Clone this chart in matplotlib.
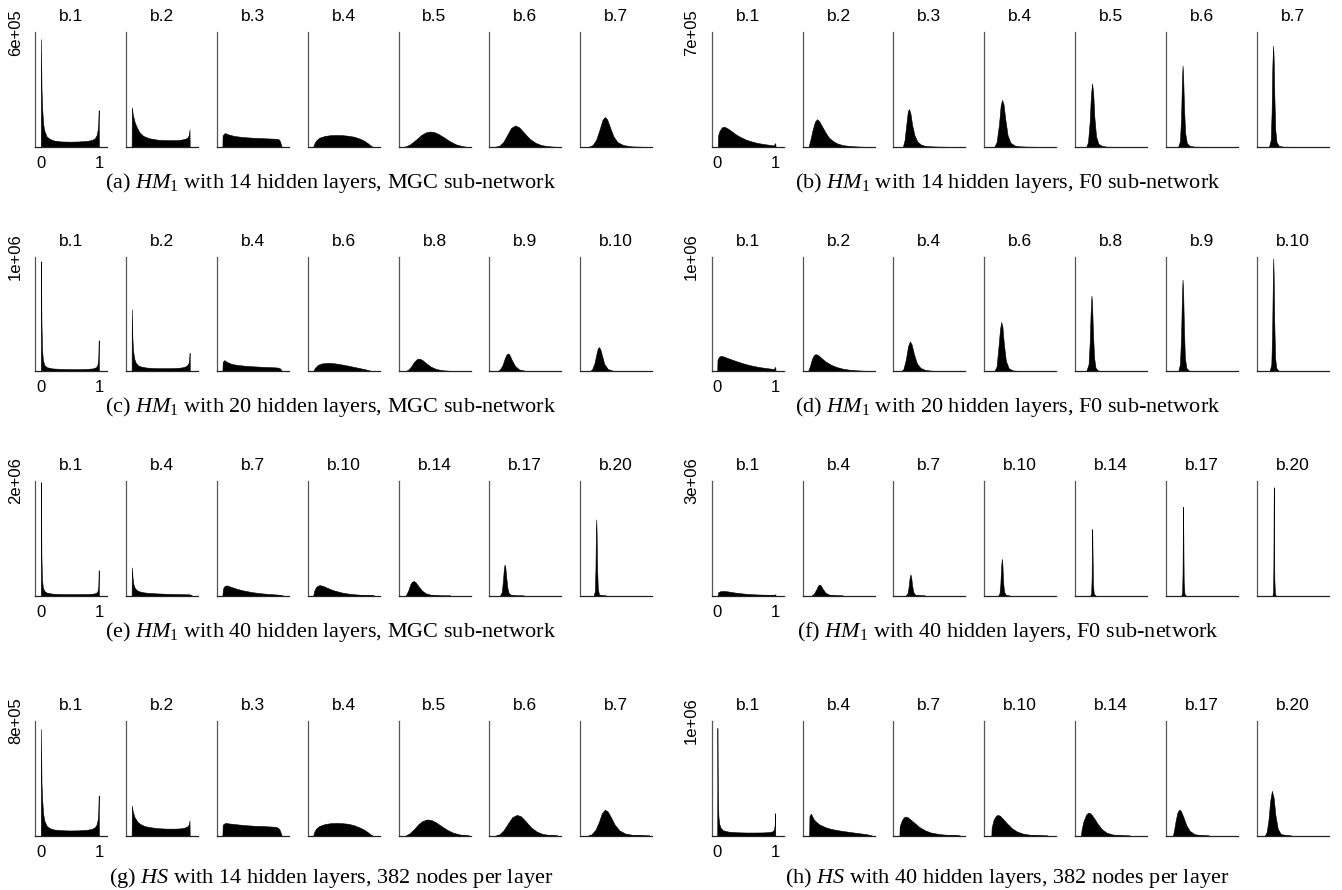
import numpy as np
import matplotlib
matplotlib.use("Agg")
import matplotlib.pyplot as plt

plt.rcParams['font.family'] = ['Liberation Sans', 'DejaVu Sans']
plt.rcParams['mathtext.fontset'] = 'custom'
plt.rcParams['mathtext.rm'] = 'Liberation Serif'
plt.rcParams['mathtext.it'] = 'Liberation Serif:italic'

# ---------------- data (counts in units of 1e5) ----------------
UNIT = 1e5

a_titles = ['b.1', 'b.2', 'b.3', 'b.4', 'b.5', 'b.6', 'b.7']
a_ymax = 6e5
a_ylabel = '6e+05'
a_x = [
    [0, 0.002, 0.012, 0.025, 0.04, 0.06, 0.1, 0.15, 0.22, 0.35, 0.5, 0.65, 0.8, 0.88, 0.93, 0.96, 0.98, 0.99, 0.997, 1.0],
    [0, 0.004, 0.02, 0.05, 0.08, 0.13, 0.2, 0.3, 0.45, 0.6, 0.75, 0.85, 0.92, 0.96, 0.985, 0.997, 1.0],
    [0, 0.003, 0.04, 0.1, 0.2, 0.35, 0.5, 0.7, 0.85, 0.93, 0.97, 0.99, 1.005, 1.02],
    [0, 0.02, 0.05, 0.1, 0.2, 0.3, 0.4, 0.5, 0.6, 0.7, 0.8, 0.87, 0.93, 0.98, 1.02],
    [0, 0.05, 0.1, 0.2, 0.3, 0.38, 0.45, 0.52, 0.6, 0.7, 0.8, 0.9, 1.0, 1.08],
    [0, 0.08, 0.15, 0.22, 0.28, 0.35, 0.42, 0.5, 0.6, 0.7, 0.8, 0.9, 1.0, 1.08],
    [0.05, 0.12, 0.18, 0.24, 0.29, 0.33, 0.37, 0.42, 0.48, 0.55, 0.65, 0.8, 1.0],
]
a_y = [
    [0, 5.64, 3.0, 1.92, 1.2, 0.84, 0.54, 0.42, 0.33, 0.28, 0.27, 0.28, 0.31, 0.36, 0.45, 0.6, 0.9, 1.32, 1.92, 0],
    [0, 2.07, 1.68, 1.32, 1.08, 0.78, 0.57, 0.45, 0.37, 0.35, 0.35, 0.37, 0.42, 0.48, 0.6, 0.9, 0],
    [0, 0.6, 0.72, 0.65, 0.57, 0.51, 0.48, 0.45, 0.43, 0.42, 0.39, 0.3, 0.15, 0],
    [0, 0.18, 0.33, 0.47, 0.57, 0.61, 0.62, 0.61, 0.58, 0.53, 0.43, 0.33, 0.21, 0.09, 0],
    [0, 0.05, 0.12, 0.36, 0.63, 0.76, 0.8, 0.77, 0.66, 0.47, 0.27, 0.12, 0.04, 0],
    [0, 0.06, 0.27, 0.66, 0.99, 1.12, 1.02, 0.75, 0.42, 0.21, 0.09, 0.04, 0.01, 0],
    [0, 0.09, 0.36, 0.9, 1.41, 1.56, 1.44, 1.02, 0.54, 0.24, 0.09, 0.02, 0],
]

b_titles = ['b.1', 'b.2', 'b.3', 'b.4', 'b.5', 'b.6', 'b.7']
b_ymax = 7e5
b_ylabel = '7e+05'
b_x = [
    [0.01, 0.015, 0.04, 0.08, 0.12, 0.18, 0.25, 0.32, 0.4, 0.5, 0.6, 0.7, 0.8, 0.9, 0.98, 0.99, 1.0, 1.005],
    [0.01, 0.04, 0.08, 0.12, 0.155, 0.19, 0.24, 0.3, 0.36, 0.43, 0.5, 0.6, 0.75, 0.9, 1.0],
    [0.07, 0.1, 0.13, 0.155, 0.175, 0.2, 0.23, 0.27, 0.32, 0.38, 0.45, 0.55, 0.7, 0.9],
    [0.08, 0.12, 0.16, 0.19, 0.215, 0.24, 0.27, 0.31, 0.36, 0.43, 0.52, 0.65, 0.85],
    [0.1, 0.13, 0.16, 0.18, 0.2, 0.22, 0.24, 0.27, 0.31, 0.37, 0.45, 0.6],
    [0.12, 0.15, 0.17, 0.185, 0.195, 0.205, 0.22, 0.24, 0.27, 0.32, 0.4, 0.55],
    [0.12, 0.15, 0.165, 0.178, 0.19, 0.2, 0.212, 0.228, 0.25, 0.29, 0.36, 0.5],
]
b_y = [
    [0, 0.7, 0.98, 1.19, 1.23, 1.12, 0.95, 0.76, 0.6, 0.43, 0.32, 0.23, 0.17, 0.12, 0.08, 0.21, 0.21, 0],
    [0, 0.42, 1.05, 1.54, 1.69, 1.58, 1.26, 0.88, 0.56, 0.35, 0.21, 0.1, 0.04, 0.01, 0],
    [0, 0.42, 1.4, 2.17, 2.31, 2.03, 1.33, 0.7, 0.32, 0.14, 0.06, 0.03, 0.01, 0],
    [0, 0.28, 1.33, 2.52, 2.87, 2.59, 1.68, 0.7, 0.25, 0.08, 0.03, 0.01, 0],
    [0, 0.28, 1.54, 3.08, 3.88, 3.29, 1.82, 0.63, 0.18, 0.06, 0.01, 0],
    [0, 0.35, 1.75, 4.06, 4.97, 4.34, 2.45, 0.84, 0.21, 0.06, 0.01, 0],
    [0, 0.42, 2.1, 4.9, 6.18, 5.46, 3.15, 1.05, 0.28, 0.06, 0.01, 0],
]

c_titles = ['b.1', 'b.2', 'b.4', 'b.6', 'b.8', 'b.9', 'b.10']
c_ymax = 1e6
c_ylabel = '1e+06'
c_x = [
    [0, 0.003, 0.01, 0.02, 0.035, 0.06, 0.1, 0.2, 0.35, 0.5, 0.65, 0.8, 0.9, 0.95, 0.975, 0.99, 0.997, 1.0],
    [0, 0.003, 0.012, 0.025, 0.045, 0.07, 0.1, 0.15, 0.25, 0.4, 0.55, 0.7, 0.82, 0.9, 0.95, 0.98, 0.993, 0.999, 1.002],
    [0, 0.005, 0.03, 0.08, 0.15, 0.25, 0.4, 0.55, 0.7, 0.85, 0.95, 0.99, 1.01, 1.03],
    [0, 0.03, 0.08, 0.15, 0.25, 0.35, 0.5, 0.65, 0.8, 0.9, 0.97, 1.02],
    [0.02, 0.07, 0.12, 0.17, 0.22, 0.26, 0.31, 0.38, 0.46, 0.55, 0.65, 0.8, 1.0],
    [0.03, 0.08, 0.13, 0.17, 0.2, 0.225, 0.25, 0.29, 0.35, 0.42, 0.52, 0.65, 0.85],
    [0.07, 0.11, 0.15, 0.19, 0.21, 0.23, 0.25, 0.28, 0.32, 0.38, 0.46, 0.6, 0.8],
]
c_y = [
    [0, 9.6, 4.5, 2.0, 1.0, 0.55, 0.35, 0.24, 0.2, 0.18, 0.18, 0.2, 0.25, 0.35, 0.55, 1.2, 2.7, 0],
    [0, 5.4, 3.0, 1.8, 1.1, 0.75, 0.55, 0.42, 0.32, 0.27, 0.26, 0.27, 0.3, 0.36, 0.48, 0.7, 1.1, 1.6, 0],
    [0, 0.8, 0.97, 0.8, 0.65, 0.55, 0.47, 0.42, 0.38, 0.35, 0.32, 0.25, 0.12, 0],
    [0, 0.3, 0.55, 0.68, 0.73, 0.7, 0.58, 0.43, 0.27, 0.16, 0.07, 0],
    [0, 0.12, 0.4, 0.8, 1.05, 1.1, 1.0, 0.7, 0.4, 0.2, 0.09, 0.03, 0],
    [0, 0.1, 0.5, 1.1, 1.45, 1.55, 1.45, 1.0, 0.45, 0.15, 0.04, 0.01, 0],
    [0, 0.15, 0.65, 1.6, 2.0, 2.1, 1.95, 1.4, 0.65, 0.2, 0.05, 0.01, 0],
]

d_titles = ['b.1', 'b.2', 'b.4', 'b.6', 'b.8', 'b.9', 'b.10']
d_ymax = 1e6
d_ylabel = '1e+06'
d_x = [
    [0, 0.005, 0.03, 0.06, 0.1, 0.18, 0.27, 0.36, 0.45, 0.55, 0.65, 0.75, 0.85, 0.93, 0.98, 0.99, 1.0, 1.005],
    [0, 0.03, 0.07, 0.1, 0.13, 0.17, 0.22, 0.3, 0.4, 0.5, 0.6, 0.7, 0.8, 0.9, 1.0, 1.08],
    [0.04, 0.08, 0.12, 0.16, 0.19, 0.22, 0.26, 0.31, 0.37, 0.45, 0.55, 0.7, 0.9],
    [0.08, 0.12, 0.15, 0.18, 0.2, 0.22, 0.245, 0.28, 0.33, 0.4, 0.5, 0.65],
    [0.1, 0.14, 0.16, 0.175, 0.19, 0.2, 0.215, 0.235, 0.26, 0.3, 0.38, 0.5],
    [0.12, 0.15, 0.17, 0.183, 0.195, 0.205, 0.218, 0.235, 0.26, 0.3, 0.38, 0.5],
    [0.13, 0.16, 0.175, 0.185, 0.193, 0.2, 0.21, 0.225, 0.245, 0.28, 0.35, 0.45],
]
d_y = [
    [0, 1.0, 1.25, 1.34, 1.3, 1.15, 0.98, 0.83, 0.68, 0.54, 0.43, 0.34, 0.27, 0.22, 0.2, 0.35, 0.35, 0],
    [0, 0.4, 1.1, 1.4, 1.49, 1.42, 1.2, 0.85, 0.55, 0.35, 0.22, 0.14, 0.09, 0.06, 0.03, 0],
    [0, 0.2, 1.0, 2.2, 2.6, 2.35, 1.5, 0.7, 0.3, 0.12, 0.05, 0.01, 0],
    [0, 0.4, 2.0, 3.7, 4.3, 3.9, 2.4, 0.9, 0.25, 0.07, 0.02, 0],
    [0, 0.6, 2.5, 5.0, 6.6, 6.0, 3.5, 1.2, 0.3, 0.06, 0.01, 0],
    [0, 0.6, 3.0, 6.2, 8.0, 7.0, 4.0, 1.2, 0.3, 0.06, 0.01, 0],
    [0, 0.6, 3.5, 7.5, 9.85, 8.5, 4.5, 1.2, 0.3, 0.05, 0.01, 0],
]

e_titles = ['b.1', 'b.4', 'b.7', 'b.10', 'b.14', 'b.17', 'b.20']
e_ymax = 2e6
e_ylabel = '2e+06'
e_x = [
    [0, 0.003, 0.01, 0.02, 0.035, 0.06, 0.1, 0.2, 0.35, 0.5, 0.65, 0.8, 0.9, 0.95, 0.975, 0.99, 0.997, 1.0],
    [0, 0.004, 0.015, 0.03, 0.05, 0.08, 0.12, 0.2, 0.3, 0.45, 0.6, 0.75, 0.9, 1.0, 1.04],
    [0, 0.01, 0.04, 0.08, 0.15, 0.25, 0.35, 0.5, 0.65, 0.8, 0.95, 1.05],
    [0, 0.02, 0.05, 0.09, 0.12, 0.17, 0.25, 0.35, 0.5, 0.65, 0.8, 1.0, 1.05],
    [0.03, 0.07, 0.11, 0.14, 0.17, 0.2, 0.25, 0.31, 0.38, 0.47, 0.6, 0.8],
    [0.09, 0.12, 0.14, 0.155, 0.168, 0.18, 0.195, 0.215, 0.24, 0.28, 0.35, 0.5],
    [0.14, 0.16, 0.17, 0.177, 0.183, 0.189, 0.197, 0.21, 0.23, 0.27, 0.35],
]
e_y = [
    [0, 19.8, 7.0, 2.8, 1.4, 0.8, 0.5, 0.32, 0.26, 0.24, 0.24, 0.26, 0.32, 0.44, 0.7, 1.6, 4.4, 0],
    [0, 4.9, 3.2, 2.0, 1.4, 1.0, 0.76, 0.56, 0.44, 0.36, 0.3, 0.26, 0.22, 0.2, 0],
    [0, 1.2, 1.7, 1.76, 1.5, 1.16, 0.9, 0.6, 0.4, 0.26, 0.16, 0],
    [0, 0.9, 1.5, 1.76, 1.8, 1.66, 1.3, 0.9, 0.5, 0.26, 0.14, 0.06, 0],
    [0, 0.8, 2.0, 2.44, 2.52, 2.3, 1.6, 0.84, 0.36, 0.12, 0.02, 0],
    [0, 0.6, 2.6, 4.6, 5.4, 5.0, 3.4, 1.4, 0.4, 0.08, 0.02, 0],
    [0, 0.8, 5.0, 11.0, 13.3, 11.0, 5.0, 1.2, 0.2, 0.04, 0],
]

f_titles = ['b.1', 'b.4', 'b.7', 'b.10', 'b.14', 'b.17', 'b.20']
f_ymax = 3e6
f_ylabel = '3e+06'
f_x = [
    [0.01, 0.015, 0.05, 0.1, 0.18, 0.3, 0.45, 0.6, 0.75, 0.9, 0.98, 0.99, 1.0, 1.005],
    [0.06, 0.1, 0.14, 0.17, 0.195, 0.22, 0.25, 0.3, 0.36, 0.45, 0.6],
    [0.12, 0.15, 0.17, 0.185, 0.2, 0.213, 0.228, 0.25, 0.28, 0.33, 0.45],
    [0.15, 0.17, 0.185, 0.198, 0.21, 0.22, 0.232, 0.25, 0.28, 0.35],
    [0.17, 0.185, 0.193, 0.198, 0.203, 0.208, 0.216, 0.23, 0.26],
    [0.175, 0.188, 0.195, 0.2, 0.204, 0.208, 0.215, 0.228, 0.25],
    [0.18, 0.19, 0.196, 0.2, 0.203, 0.206, 0.212, 0.222, 0.24],
]
f_y = [
    [0, 0.84, 1.11, 1.2, 1.08, 0.78, 0.51, 0.33, 0.24, 0.18, 0.15, 0.3, 0.3, 0],
    [0, 0.45, 1.5, 2.55, 2.88, 2.64, 1.8, 0.75, 0.24, 0.06, 0],
    [0, 0.6, 2.4, 4.5, 5.52, 4.8, 2.7, 0.9, 0.24, 0.06, 0],
    [0, 0.6, 3.0, 7.5, 9.6, 8.1, 3.6, 0.9, 0.15, 0],
    [0, 0.6, 4.5, 13.5, 17.4, 12.0, 3.0, 0.45, 0],
    [0, 0.9, 6.0, 18.0, 23.25, 16.5, 3.6, 0.45, 0],
    [0, 0.9, 7.5, 22.5, 28.35, 21.0, 4.5, 0.45, 0],
]

g_titles = ['b.1', 'b.2', 'b.3', 'b.4', 'b.5', 'b.6', 'b.7']
g_ymax = 8e5
g_ylabel = '8e+05'
g_x = [
    [0, 0.002, 0.012, 0.025, 0.04, 0.06, 0.1, 0.15, 0.22, 0.35, 0.5, 0.65, 0.8, 0.88, 0.93, 0.96, 0.98, 0.99, 0.997, 1.0],
    [0, 0.004, 0.02, 0.05, 0.1, 0.15, 0.22, 0.32, 0.45, 0.6, 0.75, 0.85, 0.92, 0.96, 0.985, 0.997, 1.0],
    [0, 0.005, 0.05, 0.12, 0.25, 0.4, 0.55, 0.7, 0.82, 0.9, 0.95, 0.98, 1.0, 1.02],
    [0, 0.02, 0.05, 0.1, 0.2, 0.3, 0.4, 0.5, 0.6, 0.7, 0.8, 0.87, 0.93, 0.98, 1.02],
    [0.03, 0.1, 0.18, 0.25, 0.32, 0.4, 0.47, 0.55, 0.65, 0.75, 0.85, 0.95, 1.05, 1.12],
    [0.01, 0.08, 0.15, 0.22, 0.3, 0.38, 0.45, 0.53, 0.62, 0.72, 0.82, 0.95, 1.08],
    [0.04, 0.1, 0.17, 0.23, 0.28, 0.33, 0.38, 0.44, 0.5, 0.58, 0.68, 0.8, 0.95, 1.1],
]
g_y = [
    [0, 7.44, 3.6, 2.4, 1.52, 1.04, 0.68, 0.52, 0.42, 0.37, 0.35, 0.36, 0.4, 0.46, 0.58, 0.76, 1.12, 1.76, 2.8, 0],
    [0, 2.08, 1.68, 1.28, 0.96, 0.8, 0.66, 0.58, 0.51, 0.48, 0.48, 0.5, 0.56, 0.64, 0.76, 1.04, 0],
    [0, 0.76, 0.88, 0.84, 0.78, 0.72, 0.68, 0.66, 0.63, 0.61, 0.56, 0.44, 0.24, 0],
    [0, 0.28, 0.48, 0.66, 0.8, 0.86, 0.88, 0.86, 0.82, 0.72, 0.56, 0.42, 0.26, 0.1, 0],
    [0, 0.16, 0.48, 0.8, 1.02, 1.12, 1.08, 0.92, 0.64, 0.38, 0.19, 0.08, 0.02, 0],
    [0, 0.08, 0.36, 0.8, 1.28, 1.44, 1.34, 1.0, 0.58, 0.28, 0.11, 0.03, 0],
    [0, 0.08, 0.4, 0.96, 1.56, 1.8, 1.68, 1.24, 0.76, 0.36, 0.14, 0.05, 0.02, 0],
]

h_titles = ['b.1', 'b.4', 'b.7', 'b.10', 'b.14', 'b.17', 'b.20']
h_ymax = 1e6
h_ylabel = '1e+06'
h_x = [
    [0, 0.003, 0.01, 0.02, 0.035, 0.06, 0.1, 0.2, 0.35, 0.5, 0.65, 0.8, 0.9, 0.95, 0.975, 0.99, 0.997, 1.0],
    [0.02, 0.025, 0.05, 0.1, 0.15, 0.2, 0.3, 0.4, 0.55, 0.7, 0.85, 1.0, 1.1],
    [0.01, 0.015, 0.05, 0.08, 0.11, 0.15, 0.2, 0.27, 0.35, 0.45, 0.55, 0.7, 0.85, 1.0, 1.05],
    [0.03, 0.035, 0.07, 0.11, 0.14, 0.18, 0.23, 0.3, 0.38, 0.47, 0.57, 0.7, 0.85, 1.0],
    [0.01, 0.02, 0.05, 0.1, 0.14, 0.18, 0.23, 0.3, 0.37, 0.45, 0.55, 0.7, 0.85],
    [0.03, 0.05, 0.08, 0.11, 0.14, 0.17, 0.21, 0.26, 0.32, 0.4, 0.5, 0.65],
    [0.05, 0.08, 0.11, 0.14, 0.17, 0.2, 0.23, 0.27, 0.32, 0.4, 0.5],
]
h_y = [
    [0, 9.4, 4.0, 1.7, 1.0, 0.65, 0.45, 0.33, 0.28, 0.26, 0.26, 0.27, 0.3, 0.36, 0.5, 0.9, 1.95, 0],
    [0, 1.7, 1.9, 1.4, 1.15, 0.95, 0.72, 0.57, 0.43, 0.32, 0.22, 0.12, 0],
    [0, 0.8, 1.3, 1.55, 1.66, 1.6, 1.4, 1.1, 0.75, 0.45, 0.26, 0.12, 0.05, 0.02, 0],
    [0, 0.7, 1.4, 1.72, 1.8, 1.72, 1.45, 1.05, 0.65, 0.35, 0.17, 0.06, 0.02, 0],
    [0, 0.5, 1.2, 1.85, 2.0, 1.9, 1.55, 1.0, 0.55, 0.25, 0.09, 0.02, 0],
    [0, 0.5, 1.4, 2.05, 2.27, 2.1, 1.6, 0.9, 0.4, 0.12, 0.03, 0],
    [0, 0.3, 1.3, 3.0, 3.9, 3.3, 1.8, 0.6, 0.15, 0.03, 0],
]

captions = [
    r'(a) $\mathit{HM}_1$ with 14 hidden layers, MGC sub-network',
    r'(b) $\mathit{HM}_1$ with 14 hidden layers, F0 sub-network',
    r'(c) $\mathit{HM}_1$ with 20 hidden layers, MGC sub-network',
    r'(d) $\mathit{HM}_1$ with 20 hidden layers, F0 sub-network',
    r'(e) $\mathit{HM}_1$ with 40 hidden layers, MGC sub-network',
    r'(f) $\mathit{HM}_1$ with 40 hidden layers, F0 sub-network',
    r'(g) $\mathit{HS}$ with 14 hidden layers, 382 nodes per layer',
    r'(h) $\mathit{HS}$ with 40 hidden layers, 382 nodes per layer',
]

groups = [
    (a_titles, a_ymax, a_ylabel, a_x, a_y),
    (b_titles, b_ymax, b_ylabel, b_x, b_y),
    (c_titles, c_ymax, c_ylabel, c_x, c_y),
    (d_titles, d_ymax, d_ylabel, d_x, d_y),
    (e_titles, e_ymax, e_ylabel, e_x, e_y),
    (f_titles, f_ymax, f_ylabel, f_x, f_y),
    (g_titles, g_ymax, g_ylabel, g_x, g_y),
    (h_titles, h_ymax, h_ylabel, h_x, h_y),
]

# ---------------- layout (pixels) ----------------
FW, FH = 1342, 890
fig = plt.figure(figsize=(FW / 100, FH / 100), dpi=100)

COL_LEFT = [35.3, 711.7]
PERIOD = 90.8
PW = 72.0
ROW_TOP = [32.3, 256.7, 481.0, 721.0]
PH = 114.5
CAP_OFF = [41, 41, 41, 47]
CAP_CX = [331, 1007.5]
XLIM = (-0.095, 1.145)

def px_axes(left, top, w, h):
    return fig.add_axes([left / FW, 1 - (top + h) / FH, w / FW, h / FH])

for gi, (titles, ymax, ylabel, xs, ys) in enumerate(groups):
    col = gi % 2
    row = gi // 2
    for j in range(7):
        ax = px_axes(COL_LEFT[col] + j * PERIOD, ROW_TOP[row], PW, PH)
        xv = np.array(xs[j], dtype=float)
        yv = np.array(ys[j], dtype=float) * UNIT
        ax.fill_between(xv, yv, 0, color='black', linewidth=0.4, edgecolor='black')
        ax.set_xlim(*XLIM)
        ax.set_ylim(0, ymax)
        for s in ['top', 'right']:
            ax.spines[s].set_visible(False)
        ax.spines['left'].set_color('#555555')
        ax.spines['left'].set_linewidth(0.9)
        ax.spines['bottom'].set_color('#222222')
        ax.spines['bottom'].set_linewidth(0.9)
        ax.set_yticks([])
        ax.set_title(titles[j], fontsize=12.5, pad=8)
        if j == 0:
            ax.set_xticks([0, 1])
            ax.set_xticklabels(['0', '1'])
            ax.tick_params(axis='x', length=0, pad=6.5, labelsize=12)
            ax.annotate(ylabel, xy=(0, ymax), xycoords=('axes fraction', 'data'),
                        xytext=(-14.4, 0), textcoords='offset points',
                        rotation=90, ha='center', va='center', fontsize=12,
                        annotation_clip=False)
        else:
            ax.set_xticks([])
    fig.text(CAP_CX[col] / FW, 1 - (ROW_TOP[row] + PH + CAP_OFF[row]) / FH, captions[gi],
             ha='center', va='baseline', fontsize=16, family='Liberation Serif')

fig.savefig('out.png', dpi=100)
